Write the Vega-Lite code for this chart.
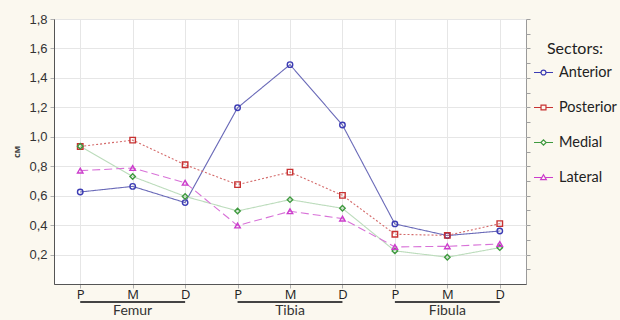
{
  "$schema": "https://vega.github.io/schema/vega-lite/v6.json",
  "width": 472,
  "height": 265,
  "autosize": {"type": "none"},
  "padding": {"left": 54, "top": 19, "right": 94, "bottom": 36},
  "background": "#fbf8ef",
  "config": {"view": {"fill": "white", "stroke": "#9a9a9a"}, "font": "Open Sans"},
  "datasets": {
    "main": [
      {"key": "Femur P", "series": "Anterior", "value": 0.625},
      {"key": "Femur M", "series": "Anterior", "value": 0.663},
      {"key": "Femur D", "series": "Anterior", "value": 0.553},
      {"key": "Tibia P", "series": "Anterior", "value": 1.197},
      {"key": "Tibia M", "series": "Anterior", "value": 1.49},
      {"key": "Tibia D", "series": "Anterior", "value": 1.08},
      {"key": "Fibula P", "series": "Anterior", "value": 0.408},
      {"key": "Fibula M", "series": "Anterior", "value": 0.329},
      {"key": "Fibula D", "series": "Anterior", "value": 0.36},
      {"key": "Femur P", "series": "Posterior", "value": 0.934},
      {"key": "Femur M", "series": "Posterior", "value": 0.977},
      {"key": "Femur D", "series": "Posterior", "value": 0.81},
      {"key": "Tibia P", "series": "Posterior", "value": 0.675},
      {"key": "Tibia M", "series": "Posterior", "value": 0.76},
      {"key": "Tibia D", "series": "Posterior", "value": 0.602},
      {"key": "Fibula P", "series": "Posterior", "value": 0.338},
      {"key": "Fibula M", "series": "Posterior", "value": 0.33},
      {"key": "Fibula D", "series": "Posterior", "value": 0.41},
      {"key": "Femur P", "series": "Medial", "value": 0.935},
      {"key": "Femur M", "series": "Medial", "value": 0.73},
      {"key": "Femur D", "series": "Medial", "value": 0.595},
      {"key": "Tibia P", "series": "Medial", "value": 0.496},
      {"key": "Tibia M", "series": "Medial", "value": 0.573},
      {"key": "Tibia D", "series": "Medial", "value": 0.514},
      {"key": "Fibula P", "series": "Medial", "value": 0.225},
      {"key": "Fibula M", "series": "Medial", "value": 0.182},
      {"key": "Fibula D", "series": "Medial", "value": 0.247},
      {"key": "Femur P", "series": "Lateral", "value": 0.77},
      {"key": "Femur M", "series": "Lateral", "value": 0.788},
      {"key": "Femur D", "series": "Lateral", "value": 0.688},
      {"key": "Tibia P", "series": "Lateral", "value": 0.397},
      {"key": "Tibia M", "series": "Lateral", "value": 0.494},
      {"key": "Tibia D", "series": "Lateral", "value": 0.444},
      {"key": "Fibula P", "series": "Lateral", "value": 0.252},
      {"key": "Fibula M", "series": "Lateral", "value": 0.256},
      {"key": "Fibula D", "series": "Lateral", "value": 0.272}
    ],
    "groups": [
      {"bone": "Femur", "start": "Femur P", "mid": "Femur M", "end": "Femur D"},
      {"bone": "Tibia", "start": "Tibia P", "mid": "Tibia M", "end": "Tibia D"},
      {"bone": "Fibula", "start": "Fibula P", "mid": "Fibula M", "end": "Fibula D"}
    ]
  },
  "layer": [
    {
      "data": {"name": "groups"},
      "layer": [
        {
          "mark": {"type": "rule", "strokeWidth": 2, "color": "#444444"},
          "encoding": {
            "x": {"field": "start", "type": "ordinal", "scale": {"type": "point", "padding": 0.5, "domain": ["Femur P","Femur M","Femur D","Tibia P","Tibia M","Tibia D","Fibula P","Fibula M","Fibula D"]}, "axis": null},
            "x2": {"field": "end"},
            "y": {"datum": -0.123, "type": "quantitative", "scale": {"domain": [0, 1.8], "nice": false}, "axis": null}
          }
        },
        {
          "mark": {"type": "text", "fontSize": 14, "color": "#333333", "baseline": "middle", "font": "Lato"},
          "encoding": {
            "x": {"field": "mid", "type": "ordinal", "scale": {"type": "point", "padding": 0.5, "domain": ["Femur P","Femur M","Femur D","Tibia P","Tibia M","Tibia D","Fibula P","Fibula M","Fibula D"]}, "axis": null},
            "y": {"datum": -0.182, "type": "quantitative", "scale": {"domain": [0, 1.8], "nice": false}, "axis": null},
            "text": {"field": "bone"}
          }
        }
      ]
    },
    {
      "data": {"name": "main"},
      "mark": {"type": "line", "strokeWidth": 1.1},
      "encoding": {
        "x": {"field": "key", "type": "ordinal", "scale": {"type": "point", "padding": 0.5, "domain": ["Femur P","Femur M","Femur D","Tibia P","Tibia M","Tibia D","Fibula P","Fibula M","Fibula D"]},
          "axis": {"title": null, "labelExpr": "slice(datum.label, -1)", "labelAngle": 0, "grid": true, "gridColor": "#e6e6e6", "tickSize": 4, "tickColor": "#b0b0b0", "domainColor": "#555555", "labelFontSize": 13, "labelColor": "#222222", "labelPadding": 0, "labelFont": "Open Sans"}},
        "y": {"field": "value", "type": "quantitative", "scale": {"domain": [0, 1.8], "nice": false},
          "axis": {"values": [0.2, 0.4, 0.6, 0.8, 1.0, 1.2, 1.4, 1.6, 1.8], "labelExpr": "replace(format(datum.value, '.1f'), '.', ',')", "title": "см", "titleFontSize": 9, "titleFontWeight": "bold", "titleColor": "#444444", "titlePadding": 7, "grid": true, "gridColor": "#e6e6e6", "tickSize": 4, "tickColor": "#b0b0b0", "domainColor": "#555555", "labelFontSize": 13, "labelColor": "#333333", "labelFont": "Liberation Sans", "labelPadding": 3}},
        "color": {"field": "series", "type": "nominal", "scale": {"domain": ["Anterior","Posterior","Medial","Lateral"], "range": ["#6a6ab8", "#d46a6a", "#bcdcbc", "#d872d8"]}, "legend": null},
        "strokeDash": {"field": "series", "type": "nominal", "scale": {"domain": ["Anterior","Posterior","Medial","Lateral"], "range": [[1, 0], [2, 2], [1, 0], [8, 4]]}, "legend": null},
        "order": {"value": null}
      }
    },
    {
      "data": {"name": "main"},
      "mark": {"type": "point", "filled": false, "size": 30, "strokeWidth": 1.4, "opacity": 1},
      "encoding": {
        "x": {"field": "key", "type": "ordinal", "scale": {"type": "point", "padding": 0.5, "domain": ["Femur P","Femur M","Femur D","Tibia P","Tibia M","Tibia D","Fibula P","Fibula M","Fibula D"]}, "axis": null},
        "y": {"field": "value", "type": "quantitative", "scale": {"domain": [0, 1.8], "nice": false}, "axis": null},
        "color": {"field": "series", "type": "nominal", "scale": {"domain": ["Anterior","Posterior","Medial","Lateral"], "range": ["#3c3cb4", "#c83232", "#3f9a3f", "#cc3ccc"]}, "legend": null},
        "shape": {"field": "series", "type": "nominal", "scale": {"domain": ["Anterior","Posterior","Medial","Lateral"], "range": ["circle", "square", "diamond", "triangle-up"]}, "legend": null}
      }
    },
    {
      "data": {"name": "main"},
      "mark": {"type": "point", "filled": false, "opacity": 0},
      "encoding": {
        "x": {"field": "key", "type": "ordinal", "scale": {"type": "point", "padding": 0.5, "domain": ["Femur P","Femur M","Femur D","Tibia P","Tibia M","Tibia D","Fibula P","Fibula M","Fibula D"]}, "axis": null},
        "y": {"field": "value", "type": "quantitative", "scale": {"domain": [0, 1.8], "nice": false},
          "axis": {"orient": "right", "title": null, "values": [0.1, 0.2, 0.3, 0.4, 0.5, 0.6, 0.7, 0.8, 0.9, 1.0, 1.1, 1.2, 1.3, 1.4, 1.5, 1.6, 1.7, 1.8], "labels": false, "grid": false, "domain": false, "ticks": true, "tickSize": 4, "tickColor": "#a0a0a0"}},
        "color": {"field": "series", "type": "nominal", "scale": {"domain": ["Anterior","Posterior","Medial","Lateral"], "range": ["#3c3cb4", "#c83232", "#3f9a3f", "#cc3ccc"]},
          "legend": {"title": "Sectors:", "orient": "none", "legendX": 479, "legendY": 22, "titleFontSize": 16, "titleFontWeight": "normal", "titleColor": "#222222", "titleAnchor": "middle", "titlePadding": 5, "labelFontSize": 14.5, "labelColor": "#222222", "labelFont": "Lato", "titleFont": "Lato", "symbolSize": 361, "symbolStrokeWidth": 1.2, "symbolOpacity": 1, "rowPadding": 18, "labelOffset": 5, "padding": 0}},
        "shape": {"field": "series", "type": "nominal", "scale": {"domain": ["Anterior","Posterior","Medial","Lateral"], "range": [
            "M-1,0H-0.26M0.26,0H1M-0.26,0A0.26,0.26 0 1,0 0.26,0A0.26,0.26 0 1,0 -0.26,0Z",
            "M-1,0H-0.26M0.26,0H1M-0.26,-0.26H0.26V0.26H-0.26Z",
            "M-1,0H-0.28M0.28,0H1M-0.28,0L0,-0.28L0.28,0L0,0.28Z",
            "M-1,0H-0.2M0.2,0H1M-0.3,0.22L0,-0.3L0.3,0.22Z"]},
          "legend": {"title": "Sectors:", "orient": "none", "legendX": 479, "legendY": 22, "titleFontSize": 16, "titleFontWeight": "normal", "titleColor": "#222222", "titleAnchor": "middle", "titlePadding": 5, "labelFontSize": 14.5, "labelColor": "#222222", "labelFont": "Lato", "titleFont": "Lato", "symbolSize": 361, "symbolStrokeWidth": 1.2, "symbolOpacity": 1, "rowPadding": 18, "labelOffset": 5, "padding": 0}}
      }
    }
  ],
  "resolve": {
    "scale": {"color": "independent", "shape": "independent", "strokeDash": "independent"},
    "axis": {"x": "independent", "y": "independent"}
  }
}
